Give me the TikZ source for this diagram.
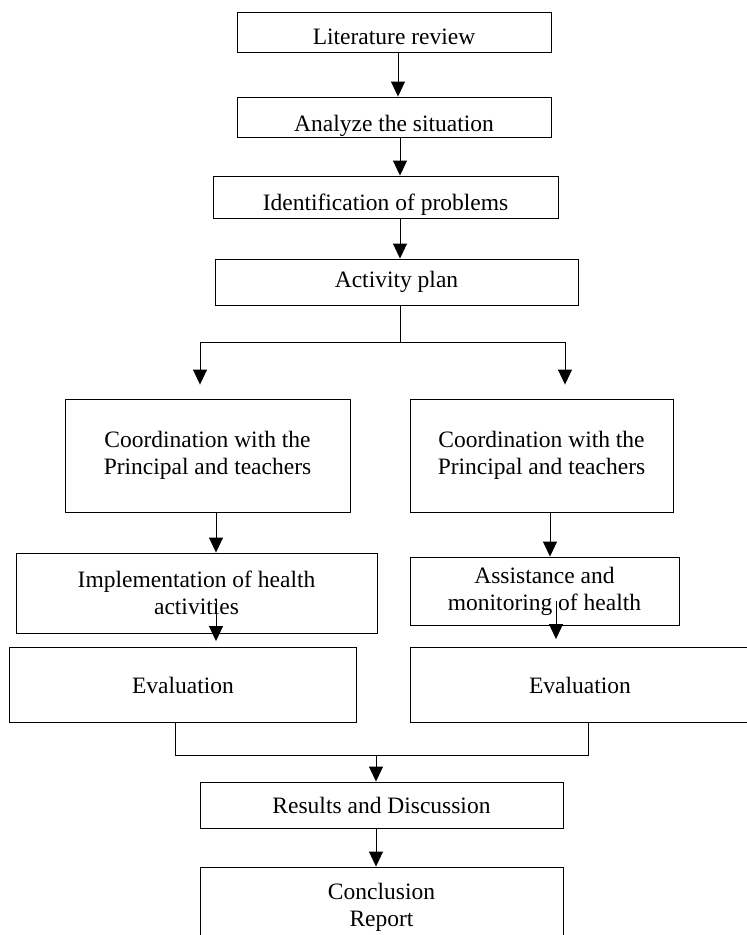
\documentclass[tikz,border=0pt]{standalone}
\usepackage{fontspec}
\setmainfont{Liberation Serif}
\usetikzlibrary{arrows.meta}

\begin{document}
\begin{tikzpicture}[x=1pt,y=-1pt,>={Triangle[length=15pt,width=14pt]},
  font=\fontsize{23.5}{27}\selectfont,line width=0.9pt,
  box/.style={draw,inner sep=0pt,align=center},
  lowtext/.style={text height=#1,text depth=0pt}]
  \path[use as bounding box] (0,0) rectangle (747,935);
  \node[box,minimum width=314pt,minimum height=40pt,lowtext=24pt]
    (review) at (394,32) {Literature review};
  \node[box,minimum width=314pt,minimum height=40pt,lowtext=28pt]
    (analyze) at (394,117) {Analyze the situation};
  \node[box,minimum width=345pt,minimum height=42pt,lowtext=26pt]
    (problems) at (385.5,197) {Identification of problems};
  \node[box,minimum width=363pt,minimum height=46pt] (plan) at (396.5,282) {Activity plan};
  \node[box,minimum width=285pt,minimum height=113pt]
    (coordleft) at (207.5,455.5) {Coordination with the\\Principal and teachers};
  \node[box,minimum width=263pt,minimum height=113pt]
    (coordright) at (541.5,455.5) {Coordination with the\\Principal and teachers};
  \node[box,minimum width=361pt,minimum height=80pt]
    (implement) at (196.5,593) {Implementation of health\\activities};
  \node[box,minimum width=269pt,minimum height=68pt]
    (assist) at (544.5,591) {Assistance and\\monitoring of health};
  \node[box,minimum width=347pt,minimum height=75pt] (evalleft) at (183,685) {Evaluation};
  \node[box,minimum width=340pt,minimum height=75pt] (evalright) at (580,685) {Evaluation};
  \node[box,minimum width=363pt,minimum height=46pt] (results) at (381.5,805) {Results and Discussion};
  \node[box,minimum width=363pt,minimum height=80pt] (conclusion) at (381.5,907) {Conclusion\\Report};
  \coordinate (forkleft) at (200,342);
  \coordinate (forkright) at (565,342);
  \coordinate (join) at (376,755);
  \draw[->] ([xshift=4pt]review.south) -- ([xshift=4pt]analyze.north);
  \draw[->] ([xshift=6pt]analyze.south) -- ([xshift=6pt]analyze.south |- problems.north);
  \draw[->] ([xshift=14.5pt]problems.south) -- ([xshift=14.5pt]problems.south |- plan.north);
  \draw ([xshift=3.5pt]plan.south) -- ([xshift=3.5pt]plan.south |- forkleft);
  \draw[<->] ([yshift=14pt]forkleft |- coordleft.north) -- (forkleft) -- (forkright)
    -- ([yshift=14pt]forkright |- coordright.north);
  \draw[->] ([xshift=8.5pt]coordleft.south) -- ([xshift=8.5pt]coordleft.south |- implement.north);
  \draw[->] ([xshift=8.5pt]coordright.south) -- ([xshift=8.5pt]coordright.south |- assist.north);
  \draw[->] ([xshift=19.5pt,yshift=-7pt]implement.center)
    -- ([xshift=19.5pt,yshift=6pt]implement.center |- evalleft.north);
  \draw[->] ([xshift=11.5pt,yshift=-10pt]assist.center)
    -- ([xshift=11.5pt,yshift=8pt]assist.center |- evalright.north);
  \draw ([xshift=-8pt]evalleft.south) -- ([xshift=-8pt]evalleft.south |- join)
    -- ([xshift=8pt]evalright.south |- join) -- ([xshift=8pt]evalright.south);
  \draw[->] (join) -- (join |- results.north);
  \draw[->] ([xshift=-5.5pt]results.south) -- ([xshift=-5.5pt]results.south |- conclusion.north);
\end{tikzpicture}
\end{document}
